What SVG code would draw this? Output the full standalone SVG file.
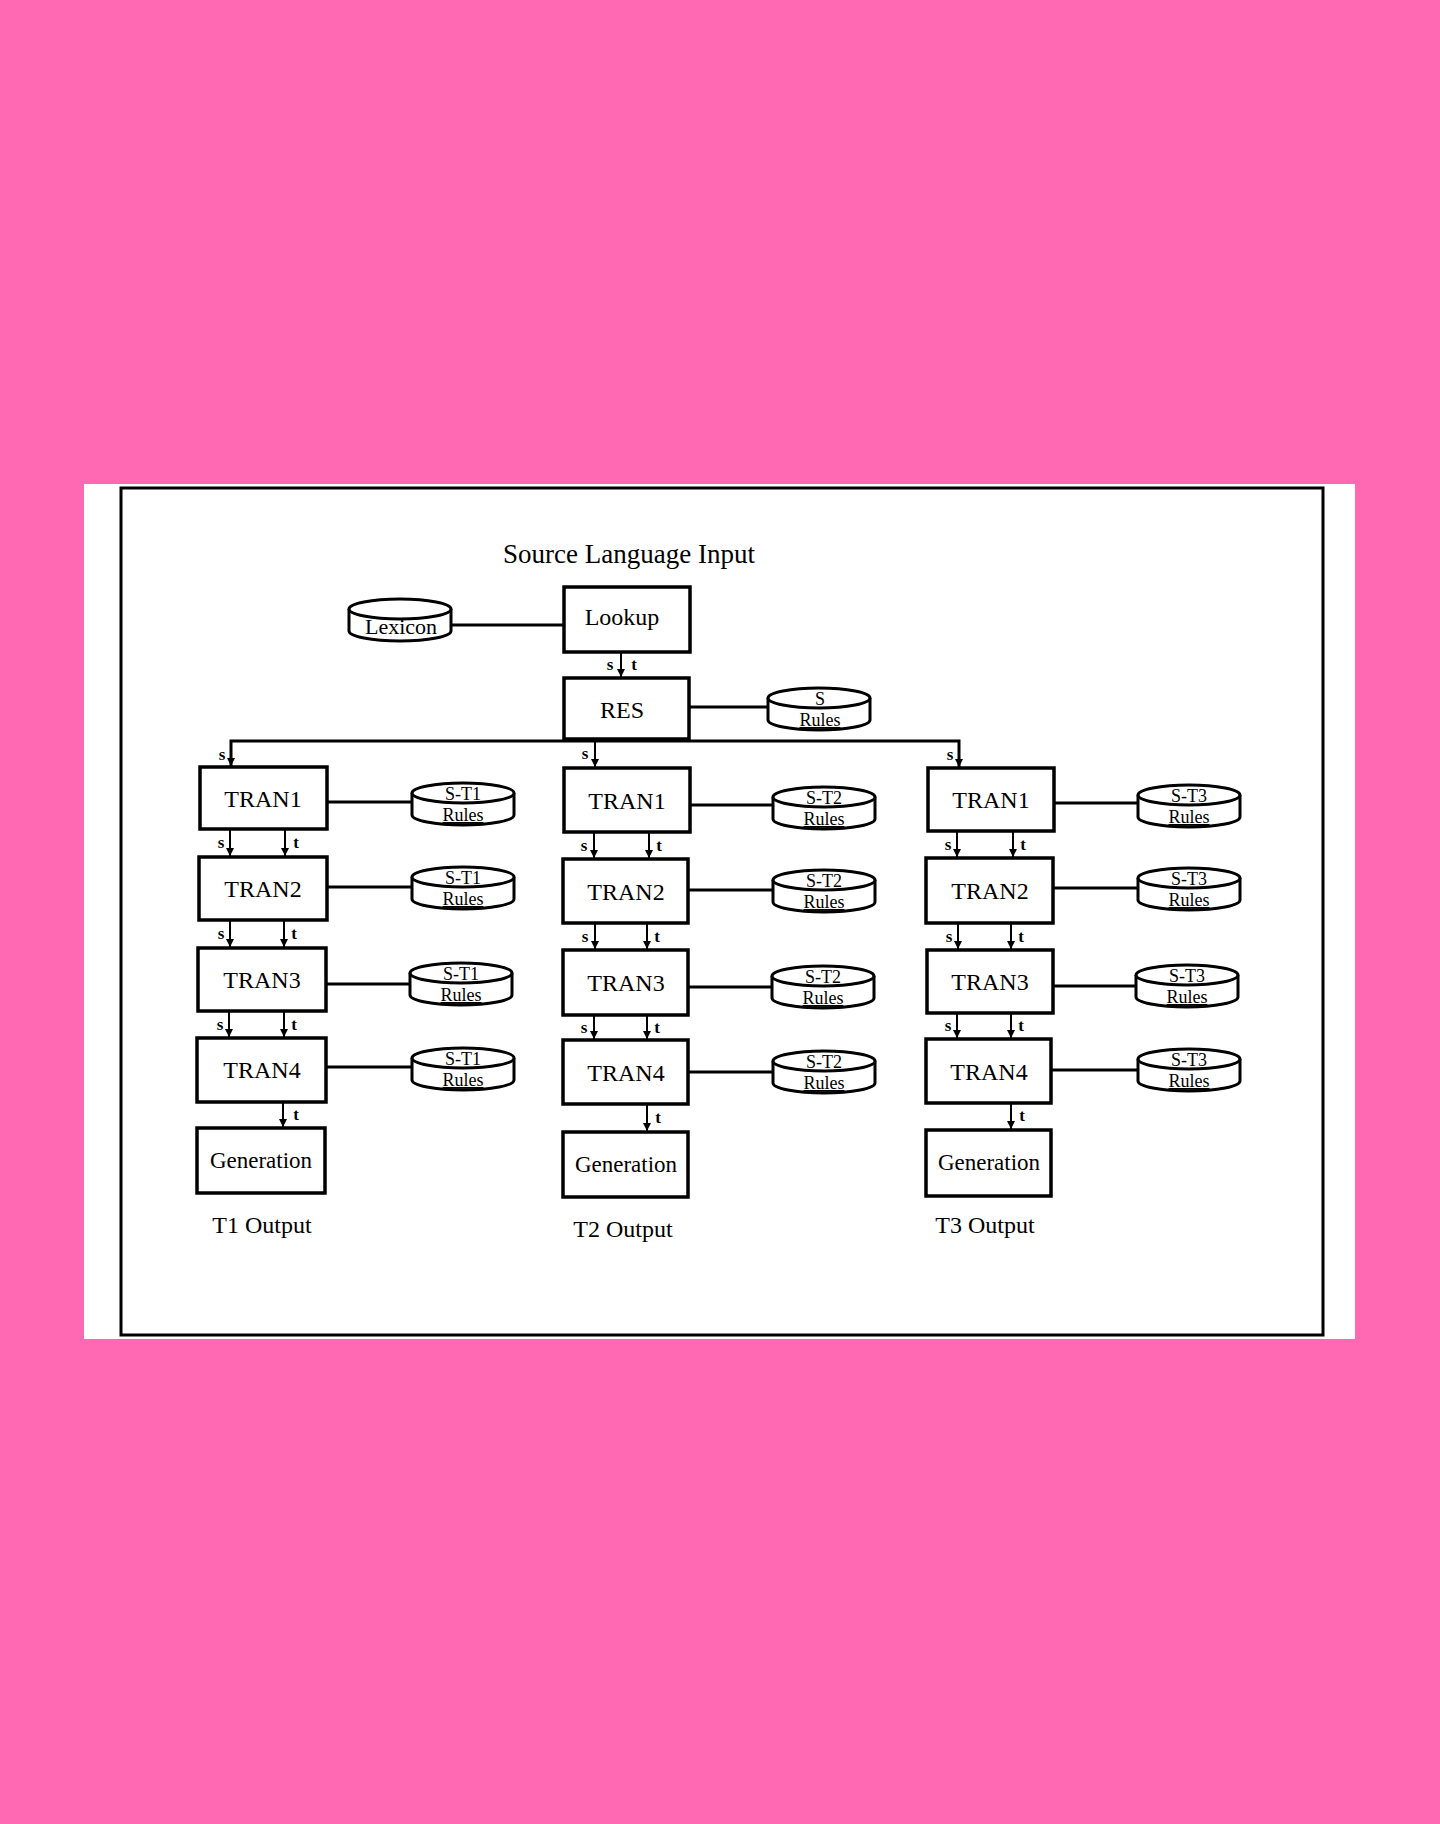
<svg xmlns="http://www.w3.org/2000/svg" xmlns:xlink="http://www.w3.org/1999/xlink" width="1440" height="1824" viewBox="0 0 1440 1824">
<defs>
<style>
.box{fill:#fff;stroke:#000;stroke-width:3.5}
.cyl{fill:#fff;stroke:#000;stroke-width:3}
.ln{stroke:#000;stroke-width:3;fill:none}
.ar{stroke:#000;stroke-width:2;fill:none}
.t{font-family:"Liberation Serif",serif;fill:#000;text-anchor:middle}
.bt{font-size:24px}
.ct{font-size:18px}
.lb{font-family:"Liberation Serif",serif;font-size:17px;font-weight:bold;fill:#000;text-anchor:middle}
</style>
<marker id="ah" markerUnits="userSpaceOnUse" markerWidth="10" markerHeight="10" refX="8" refY="4" orient="auto">
<path d="M0,0 L8,4 L0,8 z" fill="#000"/>
</marker>
<g id="cylshape">
<path class="cyl" d="M0,10 V32 A51,10 0 0 0 102,32 V10"/>
<ellipse class="cyl" cx="51" cy="10" rx="51" ry="10"/>
</g>
</defs>
<rect x="0" y="0" width="1440" height="1824" fill="#FF69B4"/>
<rect x="84" y="484" width="1271" height="855" fill="#fff"/>
<rect x="121" y="488" width="1202" height="847" fill="none" stroke="#000" stroke-width="3"/>
<text class="t" x="629" y="563" style="font-size:27px">Source Language Input</text>

<g id="connectors">
<line class="ln" x1="452" y1="625" x2="564" y2="625"/>
<line class="ln" x1="689" y1="707" x2="768" y2="707"/>
<polyline class="ln" points="231,767 231,741 959,741 959,768"/>
<line class="ar" x1="621" y1="652" x2="621" y2="677" marker-end="url(#ah)"/>
<line class="ar" x1="231" y1="745" x2="231" y2="766" marker-end="url(#ah)"/>
<line class="ar" x1="595" y1="739" x2="595" y2="767" marker-end="url(#ah)"/>
<line class="ar" x1="959" y1="745" x2="959" y2="767" marker-end="url(#ah)"/>
<!-- col1 -->
<line class="ln" x1="327" y1="802" x2="412" y2="802"/>
<line class="ln" x1="327" y1="887" x2="412" y2="887"/>
<line class="ln" x1="326" y1="984" x2="412" y2="984"/>
<line class="ln" x1="326" y1="1067" x2="412" y2="1067"/>
<line class="ar" x1="230" y1="829" x2="230" y2="856" marker-end="url(#ah)"/>
<line class="ar" x1="285" y1="829" x2="285" y2="856" marker-end="url(#ah)"/>
<line class="ar" x1="230" y1="920" x2="230" y2="947" marker-end="url(#ah)"/>
<line class="ar" x1="284" y1="920" x2="284" y2="947" marker-end="url(#ah)"/>
<line class="ar" x1="229" y1="1011" x2="229" y2="1037" marker-end="url(#ah)"/>
<line class="ar" x1="284" y1="1011" x2="284" y2="1037" marker-end="url(#ah)"/>
<line class="ar" x1="283" y1="1102" x2="283" y2="1127" marker-end="url(#ah)"/>
<!-- col2 -->
<line class="ln" x1="690" y1="805" x2="772" y2="805"/>
<line class="ln" x1="688" y1="890" x2="772" y2="890"/>
<line class="ln" x1="688" y1="987" x2="772" y2="987"/>
<line class="ln" x1="688" y1="1072" x2="772" y2="1072"/>
<line class="ar" x1="594" y1="832" x2="594" y2="858" marker-end="url(#ah)"/>
<line class="ar" x1="649" y1="832" x2="649" y2="858" marker-end="url(#ah)"/>
<line class="ar" x1="595" y1="923" x2="595" y2="949" marker-end="url(#ah)"/>
<line class="ar" x1="647" y1="923" x2="647" y2="949" marker-end="url(#ah)"/>
<line class="ar" x1="594" y1="1015" x2="594" y2="1039" marker-end="url(#ah)"/>
<line class="ar" x1="647" y1="1015" x2="647" y2="1039" marker-end="url(#ah)"/>
<line class="ar" x1="647" y1="1104" x2="647" y2="1131" marker-end="url(#ah)"/>
<!-- col3 -->
<line class="ln" x1="1054" y1="803" x2="1137" y2="803"/>
<line class="ln" x1="1053" y1="888" x2="1137" y2="888"/>
<line class="ln" x1="1053" y1="986" x2="1137" y2="986"/>
<line class="ln" x1="1051" y1="1070" x2="1137" y2="1070"/>
<line class="ar" x1="957" y1="831" x2="957" y2="857" marker-end="url(#ah)"/>
<line class="ar" x1="1013" y1="831" x2="1013" y2="857" marker-end="url(#ah)"/>
<line class="ar" x1="958" y1="923" x2="958" y2="949" marker-end="url(#ah)"/>
<line class="ar" x1="1011" y1="923" x2="1011" y2="949" marker-end="url(#ah)"/>
<line class="ar" x1="957" y1="1013" x2="957" y2="1038" marker-end="url(#ah)"/>
<line class="ar" x1="1011" y1="1013" x2="1011" y2="1038" marker-end="url(#ah)"/>
<line class="ar" x1="1011" y1="1103" x2="1011" y2="1129" marker-end="url(#ah)"/>
<!-- labels -->
<text class="lb" x="610" y="670">s</text><text class="lb" x="634" y="670">t</text>
<text class="lb" x="222" y="760">s</text>
<text class="lb" x="585" y="759">s</text>
<text class="lb" x="950" y="760">s</text>
<text class="lb" x="221" y="848">s</text><text class="lb" x="296" y="848">t</text>
<text class="lb" x="221" y="939">s</text><text class="lb" x="294" y="939">t</text>
<text class="lb" x="220" y="1030">s</text><text class="lb" x="294" y="1030">t</text>
<text class="lb" x="296" y="1120">t</text>
<text class="lb" x="584" y="851">s</text><text class="lb" x="659" y="851">t</text>
<text class="lb" x="585" y="942">s</text><text class="lb" x="657" y="942">t</text>
<text class="lb" x="584" y="1033">s</text><text class="lb" x="657" y="1033">t</text>
<text class="lb" x="658" y="1123">t</text>
<text class="lb" x="948" y="850">s</text><text class="lb" x="1023" y="850">t</text>
<text class="lb" x="949" y="942">s</text><text class="lb" x="1021" y="942">t</text>
<text class="lb" x="948" y="1031">s</text><text class="lb" x="1021" y="1031">t</text>
<text class="lb" x="1022" y="1121">t</text>
</g>

<g id="lookup"><rect class="box" x="564" y="587" width="126" height="65"/><text class="t bt" x="622" y="625">Lookup</text></g>
<g id="res"><rect class="box" x="564" y="678" width="125" height="61"/><text class="t bt" x="622" y="718">RES</text></g>
<g id="lexicon"><use xlink:href="#cylshape" transform="translate(349,599)"/><text class="t" x="401" y="634" style="font-size:22px">Lexicon</text></g>
<g id="s-rules"><use xlink:href="#cylshape" transform="translate(768,688)"/><text class="t ct" x="820" y="705">S</text><text class="t ct" x="820" y="726" text-decoration="underline">Rules</text></g>

<g id="c1-tran1"><rect class="box" x="200" y="767" width="127" height="62"/><text class="t bt" x="263" y="807">TRAN1</text></g>
<g id="c1-tran2"><rect class="box" x="199" y="857" width="128" height="63"/><text class="t bt" x="263" y="897">TRAN2</text></g>
<g id="c1-tran3"><rect class="box" x="198" y="948" width="128" height="63"/><text class="t bt" x="262" y="988">TRAN3</text></g>
<g id="c1-tran4"><rect class="box" x="197" y="1038" width="129" height="64"/><text class="t bt" x="262" y="1078">TRAN4</text></g>
<g id="c1-gen"><rect class="box" x="197" y="1128" width="128" height="65"/><text class="t" x="261" y="1168" style="font-size:23px">Generation</text></g>
<g id="c1-r1"><use xlink:href="#cylshape" transform="translate(412,783)"/><text class="t ct" x="463" y="800">S-T1</text><text class="t ct" x="463" y="821" text-decoration="underline">Rules</text></g>
<g id="c1-r2"><use xlink:href="#cylshape" transform="translate(412,867)"/><text class="t ct" x="463" y="884">S-T1</text><text class="t ct" x="463" y="905" text-decoration="underline">Rules</text></g>
<g id="c1-r3"><use xlink:href="#cylshape" transform="translate(410,963)"/><text class="t ct" x="461" y="980">S-T1</text><text class="t ct" x="461" y="1001" text-decoration="underline">Rules</text></g>
<g id="c1-r4"><use xlink:href="#cylshape" transform="translate(412,1048)"/><text class="t ct" x="463" y="1065">S-T1</text><text class="t ct" x="463" y="1086" text-decoration="underline">Rules</text></g>
<text class="t bt" x="262" y="1233">T1 Output</text>

<g id="c2-tran1"><rect class="box" x="564" y="768" width="126" height="64"/><text class="t bt" x="627" y="809">TRAN1</text></g>
<g id="c2-tran2"><rect class="box" x="563" y="859" width="125" height="64"/><text class="t bt" x="626" y="900">TRAN2</text></g>
<g id="c2-tran3"><rect class="box" x="563" y="950" width="125" height="65"/><text class="t bt" x="626" y="991">TRAN3</text></g>
<g id="c2-tran4"><rect class="box" x="563" y="1040" width="125" height="64"/><text class="t bt" x="626" y="1081">TRAN4</text></g>
<g id="c2-gen"><rect class="box" x="563" y="1132" width="125" height="65"/><text class="t" x="626" y="1172" style="font-size:23px">Generation</text></g>
<g id="c2-r1"><use xlink:href="#cylshape" transform="translate(773,787)"/><text class="t ct" x="824" y="804">S-T2</text><text class="t ct" x="824" y="825" text-decoration="underline">Rules</text></g>
<g id="c2-r2"><use xlink:href="#cylshape" transform="translate(773,870)"/><text class="t ct" x="824" y="887">S-T2</text><text class="t ct" x="824" y="908" text-decoration="underline">Rules</text></g>
<g id="c2-r3"><use xlink:href="#cylshape" transform="translate(772,966)"/><text class="t ct" x="823" y="983">S-T2</text><text class="t ct" x="823" y="1004" text-decoration="underline">Rules</text></g>
<g id="c2-r4"><use xlink:href="#cylshape" transform="translate(773,1051)"/><text class="t ct" x="824" y="1068">S-T2</text><text class="t ct" x="824" y="1089" text-decoration="underline">Rules</text></g>
<text class="t bt" x="623" y="1237">T2 Output</text>

<g id="c3-tran1"><rect class="box" x="928" y="768" width="126" height="63"/><text class="t bt" x="991" y="808">TRAN1</text></g>
<g id="c3-tran2"><rect class="box" x="926" y="858" width="127" height="65"/><text class="t bt" x="990" y="899">TRAN2</text></g>
<g id="c3-tran3"><rect class="box" x="927" y="950" width="126" height="63"/><text class="t bt" x="990" y="990">TRAN3</text></g>
<g id="c3-tran4"><rect class="box" x="926" y="1039" width="125" height="64"/><text class="t bt" x="989" y="1080">TRAN4</text></g>
<g id="c3-gen"><rect class="box" x="926" y="1130" width="125" height="66"/><text class="t" x="989" y="1170" style="font-size:23px">Generation</text></g>
<g id="c3-r1"><use xlink:href="#cylshape" transform="translate(1138,785)"/><text class="t ct" x="1189" y="802">S-T3</text><text class="t ct" x="1189" y="823" text-decoration="underline">Rules</text></g>
<g id="c3-r2"><use xlink:href="#cylshape" transform="translate(1138,868)"/><text class="t ct" x="1189" y="885">S-T3</text><text class="t ct" x="1189" y="906" text-decoration="underline">Rules</text></g>
<g id="c3-r3"><use xlink:href="#cylshape" transform="translate(1136,965)"/><text class="t ct" x="1187" y="982">S-T3</text><text class="t ct" x="1187" y="1003" text-decoration="underline">Rules</text></g>
<g id="c3-r4"><use xlink:href="#cylshape" transform="translate(1138,1049)"/><text class="t ct" x="1189" y="1066">S-T3</text><text class="t ct" x="1189" y="1087" text-decoration="underline">Rules</text></g>
<text class="t bt" x="985" y="1233">T3 Output</text>
</svg>
